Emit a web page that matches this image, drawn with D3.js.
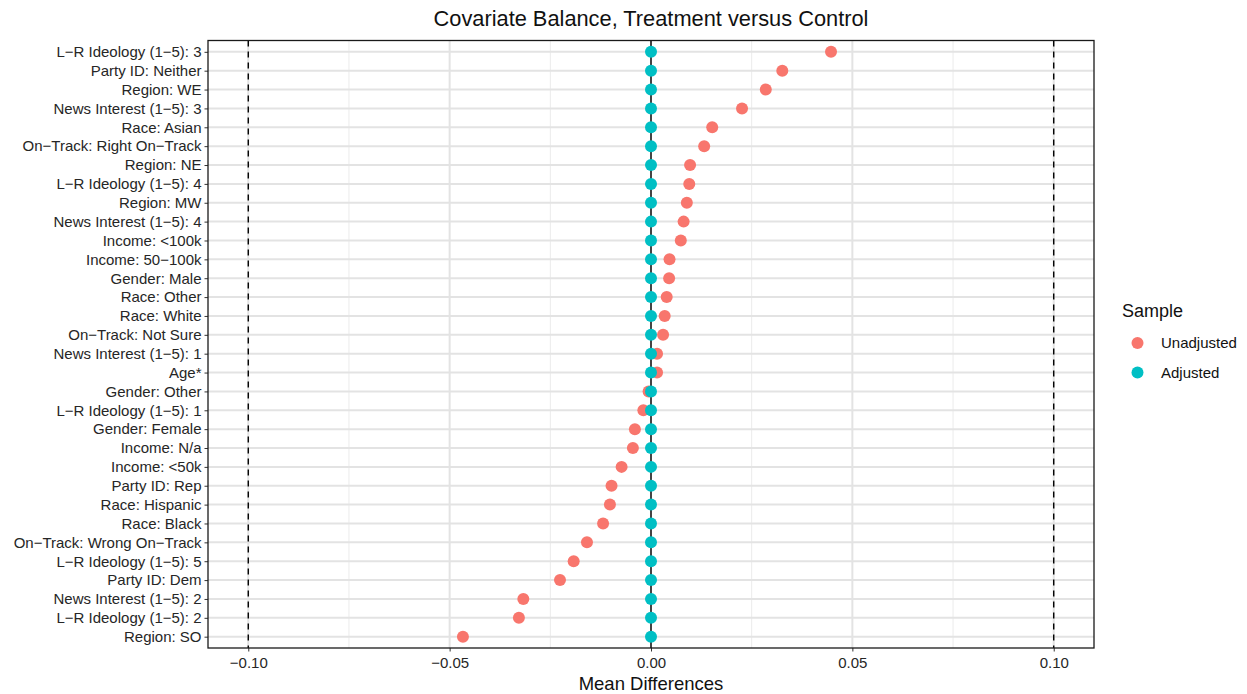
<!DOCTYPE html>
<html>
<head>
<meta charset="utf-8">
<script src="https://cdn.jsdelivr.net/npm/d3@7"></script>
<style>
  body { margin: 0; background: #fff; }
  text { font-family: "Liberation Sans", Arial, sans-serif; }
</style>
</head>
<body>
<script>
// covariates, top to bottom
var covariates = [
  "L\u2212R Ideology (1\u22125): 3", "Party ID: Neither", "Region: WE", "News Interest (1\u22125): 3",
  "Race: Asian", "On\u2212Track: Right On\u2212Track", "Region: NE", "L\u2212R Ideology (1\u22125): 4",
  "Region: MW", "News Interest (1\u22125): 4", "Income: <100k", "Income: 50\u2212100k",
  "Gender: Male", "Race: Other", "Race: White", "On\u2212Track: Not Sure",
  "News Interest (1\u22125): 1", "Age*", "Gender: Other", "L\u2212R Ideology (1\u22125): 1",
  "Gender: Female", "Income: N/a", "Income: <50k", "Party ID: Rep",
  "Race: Hispanic", "Race: Black", "On\u2212Track: Wrong On\u2212Track", "L\u2212R Ideology (1\u22125): 5",
  "Party ID: Dem", "News Interest (1\u22125): 2", "L\u2212R Ideology (1\u22125): 2", "Region: SO"
];

var unadjusted = [
  0.0447, 0.0326, 0.0285, 0.0226, 0.0152, 0.0132, 0.0097, 0.0095,
  0.0089, 0.0081, 0.0074, 0.0046, 0.0045, 0.0039, 0.0034, 0.0030,
  0.0015, 0.0015, -0.0006, -0.0019, -0.0040, -0.0045, -0.0073, -0.0098,
  -0.0102, -0.0119, -0.0159, -0.0192, -0.0226, -0.0317, -0.0328, -0.0467
];

var adjusted = [
  0, 0, 0, 0, 0, 0, 0, 0,
  0, 0, 0, 0, 0, 0, 0, 0,
  0, 0, 0, 0, 0, 0, 0, 0,
  0, 0, 0, 0, 0, 0, 0, 0
];

var seriesNames = ["Unadjusted", "Adjusted"];
var seriesColors = ["#F8766D", "#00BFC4"];
var xTicks = [-0.10, -0.05, 0.00, 0.05, 0.10];
var xMinor = [-0.075, -0.025, 0.025, 0.075];
var thresholds = [-0.10, 0.10];

var svgWidth = 1247;
var svgHeight = 694;

var margin = { top: 40.5, right: 153, bottom: 46, left: 208 };
var width = svgWidth - margin.left - margin.right;
var height = svgHeight - margin.top - margin.bottom;

var svg = d3.select("body")
  .append("svg")
  .attr("width", svgWidth)
  .attr("height", svgHeight);

var chartGroup = svg.append("g")
  .attr("transform", `translate(${margin.left}, ${margin.top})`);

var x = d3.scaleLinear().domain([-0.11, 0.11]).range([0, width]);
var y = d3.scalePoint().domain(covariates).range([0, height]).padding(0.6);

// grid
chartGroup.selectAll(".minor-x")
  .data(xMinor)
  .enter()
  .append("line")
  .attr("x1", d => x(d)).attr("x2", d => x(d))
  .attr("y1", 0).attr("y2", height)
  .attr("stroke", "#ebebeb")
  .attr("stroke-width", 1);

chartGroup.selectAll(".major-x")
  .data(xTicks)
  .enter()
  .append("line")
  .attr("x1", d => x(d)).attr("x2", d => x(d))
  .attr("y1", 0).attr("y2", height)
  .attr("stroke", "#e3e3e3")
  .attr("stroke-width", 2);

chartGroup.selectAll(".major-y")
  .data(covariates)
  .enter()
  .append("line")
  .attr("x1", 0).attr("x2", width)
  .attr("y1", d => y(d)).attr("y2", d => y(d))
  .attr("stroke", "#e3e3e3")
  .attr("stroke-width", 2);

// reference lines
chartGroup.selectAll(".thresh")
  .data(thresholds)
  .enter()
  .append("line")
  .attr("x1", d => x(d)).attr("x2", d => x(d))
  .attr("y1", 0).attr("y2", height)
  .attr("stroke", "#000")
  .attr("stroke-width", 1.4)
  .attr("stroke-dasharray", "6,5");

chartGroup.append("line")
  .attr("x1", x(0)).attr("x2", x(0))
  .attr("y1", 0).attr("y2", height)
  .attr("stroke", "#000")
  .attr("stroke-width", 1.4);

// points
var seriesData = [unadjusted, adjusted];
seriesData.forEach(function(vals, s) {
  chartGroup.selectAll(".pt" + s)
    .data(vals)
    .enter()
    .append("circle")
    .attr("cx", d => x(d))
    .attr("cy", (d, i) => y(covariates[i]))
    .attr("r", 6)
    .attr("fill", seriesColors[s]);
});

// axes
var xAxis = d3.axisBottom(x)
  .tickValues(xTicks)
  .tickSize(3.5)
  .tickPadding(6)
  .tickFormat(d => d3.format(".2f")(d).replace("-", "\u2212"));

var yAxis = d3.axisLeft(y).tickSize(3.5).tickPadding(3);

var gx = chartGroup.append("g")
  .attr("transform", `translate(0, ${height})`)
  .call(xAxis);
var gy = chartGroup.append("g").call(yAxis);

[gx, gy].forEach(function(g) {
  g.select(".domain").remove();
  g.selectAll(".tick line").attr("stroke", "#333").attr("stroke-width", 1);
  g.selectAll(".tick text")
    .attr("fill", "#262626")
    .style("font-size", "15px")
    .style("font-family", "'Liberation Sans', Arial, sans-serif");
});

// panel border
chartGroup.append("rect")
  .attr("width", width)
  .attr("height", height)
  .attr("fill", "none")
  .attr("stroke", "#1a1a1a")
  .attr("stroke-width", 1.3);

// titles
svg.append("text")
  .attr("x", margin.left + width / 2)
  .attr("y", 26)
  .attr("text-anchor", "middle")
  .style("font-size", "21.8px")
  .attr("fill", "#111")
  .text("Covariate Balance, Treatment versus Control");

svg.append("text")
  .attr("x", margin.left + width / 2)
  .attr("y", 690)
  .attr("text-anchor", "middle")
  .style("font-size", "18.5px")
  .attr("fill", "#111")
  .text("Mean Differences");

// legend
var legend = svg.append("g")
  .attr("transform", "translate(1122, 0)");

legend.append("text")
  .attr("x", 0)
  .attr("y", 317)
  .style("font-size", "18px")
  .attr("fill", "#111")
  .text("Sample");

legend.selectAll(".key")
  .data(seriesNames)
  .enter()
  .append("circle")
  .attr("cx", 15.5)
  .attr("cy", (d, i) => 343 + i * 29.5)
  .attr("r", 6)
  .attr("fill", (d, i) => seriesColors[i]);

legend.selectAll(".lab")
  .data(seriesNames)
  .enter()
  .append("text")
  .attr("x", 39)
  .attr("y", (d, i) => 343 + i * 29.5)
  .attr("dy", "0.35em")
  .style("font-size", "15px")
  .attr("fill", "#111")
  .text(d => d);
</script>
</body>
</html>
